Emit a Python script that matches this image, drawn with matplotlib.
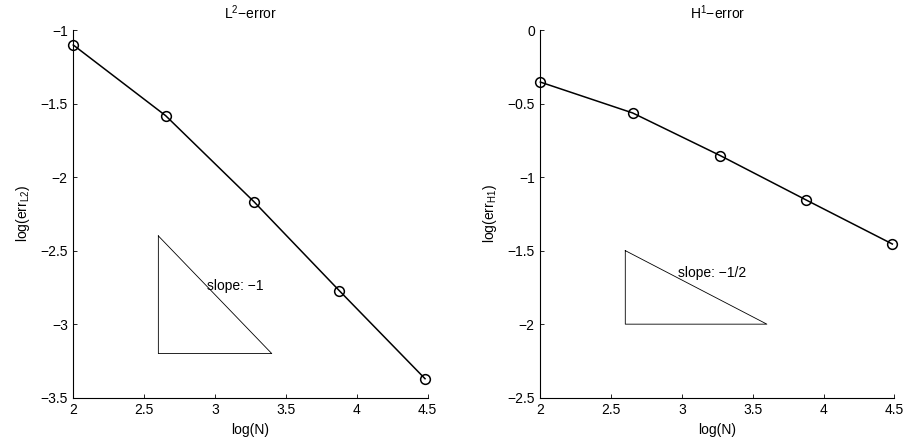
import matplotlib.pyplot as plt

plt.rcParams['font.family'] = ['Liberation Sans', 'DejaVu Sans']
plt.rcParams['mathtext.fontset'] = 'custom'
plt.rcParams['mathtext.rm'] = 'Liberation Sans'
plt.rcParams['mathtext.it'] = 'Liberation Sans:italic'
plt.rcParams['mathtext.default'] = 'regular'

# data
log_n_l2 = [2.0, 2.651, 3.274, 3.876, 4.481]
log_err_l2 = [-1.102, -1.582, -2.167, -2.772, -3.371]
log_n_h1 = [2.0, 2.652, 3.271, 3.878, 4.486]
log_err_h1 = [-0.354, -0.564, -0.854, -1.156, -1.455]

# slope triangles: x corners, y corners
tri_l2_x = [2.6, 2.6, 3.4, 2.6]
tri_l2_y = [-2.4, -3.2, -3.2, -2.4]
tri_h1_x = [2.6, 2.6, 3.6, 2.6]
tri_h1_y = [-1.5, -2.0, -2.0, -1.5]

x_ticks = [2, 2.5, 3, 3.5, 4, 4.5]
x_labels = ['2', '2.5', '3', '3.5', '4', '4.5']
y_ticks_l2 = [-3.5, -3, -2.5, -2, -1.5, -1]
y_ticks_h1 = [-2.5, -2, -1.5, -1, -0.5, 0]


def fmt(v):
    s = ('%g' % v)
    return s.replace('-', '\u2212')


def panel(ax, x, y, tri_x, tri_y, yticks, title, ylabel, slope_txt, txt_pos):
    ax.plot(x, y, '-', color='black', lw=1.1, marker='o', ms=7,
            mfc='none', mec='black', mew=1.1, clip_on=False, zorder=3)
    ax.plot(tri_x, tri_y, '-', color='black', lw=0.6)
    ax.text(txt_pos[0], txt_pos[1], slope_txt, fontsize=10, ha='left', va='center')
    ax.set_xlim(2, 4.5)
    ax.set_ylim(yticks[0], yticks[-1])
    ax.set_xticks(x_ticks)
    ax.set_xticklabels(x_labels)
    ax.set_yticks(yticks)
    ax.set_yticklabels([fmt(v) for v in yticks])
    for s in ['top', 'right']:
        ax.spines[s].set_visible(False)
    for s in ['left', 'bottom']:
        ax.spines[s].set_linewidth(0.8)
    ax.tick_params(direction='in', length=3, width=0.6, labelsize=10, pad=4)
    ax.set_xlabel('log(N)', fontsize=10, labelpad=4)
    ax.set_ylabel(ylabel, fontsize=10, labelpad=6)
    ax.set_title(title, fontsize=10, pad=8)


fig = plt.figure(figsize=(9.06, 4.46), dpi=100)
ax1 = fig.add_axes([0.0809, 0.1083, 0.3912, 0.8244])
ax2 = fig.add_axes([0.5964, 0.1083, 0.3907, 0.8244])

panel(ax1, log_n_l2, log_err_l2, tri_l2_x, tri_l2_y, y_ticks_l2,
      'L$^{2}$\u2212error', 'log(err$_{L2}$)', 'slope: \u22121', (2.94, -2.74))
panel(ax2, log_n_h1, log_err_h1, tri_h1_x, tri_h1_y, y_ticks_h1,
      'H$^{1}$\u2212error', 'log(err$_{H1}$)', 'slope: \u22121/2', (2.97, -1.65))

fig.savefig('out.png', dpi=100)
